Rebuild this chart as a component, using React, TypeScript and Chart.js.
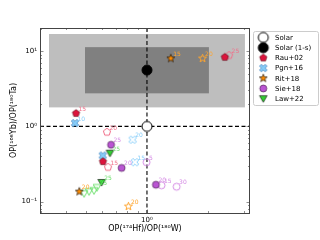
import React, { useEffect, useRef } from 'react';
import { Chart, registerables } from 'chart.js';
Chart.register(...registerables);

const FONT = "'DejaVu Sans', sans-serif";

// ---- data ----
const solarX = [1];
const solarY = [1];
const solar1sX = [1];
const solar1sY = [5.6];

const rauFilledX = [0.447, 2.42, 0.607];
const rauFilledY = [1.49, 8.3, 0.341];
const rauFilledLab = ['15', '', ''];
const rauOpenX = [2.54, 0.635, 0.643];
const rauOpenY = [8.8, 0.84, 0.287];
const rauOpenLab = ['25', '20', '15'];

const pgnFilledX = [0.442, 0.605];
const pgnFilledY = [1.107, 0.41];
const pgnFilledLab = ['10', ''];
const pgnOpenX = [0.85, 0.873];
const pgnOpenY = [0.665, 0.334];
const pgnOpenLab = ['20', '15'];

const ritFilledX = [1.31, 0.464];
const ritFilledY = [8.0, 0.136];
const ritFilledLab = ['15', '20'];
const ritOpenX = [1.88, 0.81];
const ritOpenY = [8.0, 0.0865];
const ritOpenLab = ['20', '20'];

const sieFilledX = [0.665, 0.75, 1.107];
const sieFilledY = [0.57, 0.281, 0.168];
const sieFilledLab = ['25', '20', '20'];
const sieOpenX = [0.995, 1.18, 1.40];
const sieOpenY = [0.334, 0.165, 0.158];
const sieOpenLab = ['5', '15', '30'];

const lawFilledX = [0.657, 0.598];
const lawFilledY = [0.44, 0.18];
const lawFilledLab = ['25', '25'];
const lawOpenX = [0.49, 0.518, 0.548, 0.567];
const lawOpenY = [0.128, 0.136, 0.140, 0.154];
const lawOpenLab = ['', '', '', '25'];

const lightBoxX = [0.329, 3.04];
const lightBoxY = [1.79, 16.9];
const darkBoxX = [0.495, 2.02];
const darkBoxY = [2.75, 11.3];

const xRange = [0.297, 3.22];
const yRange = [0.0707, 20.3];
const xTickValues = [1];
const xTickLabels = ['10⁰'];
const yTickValues = [0.1, 1, 10];
const yTickLabels = ['10⁻¹', '10⁰', '10¹'];
const xMinorTicks = [0.3, 0.4, 0.5, 0.6, 0.7, 0.8, 0.9, 2, 3];
const yMinorTicks = [0.08, 0.09, 0.2, 0.3, 0.4, 0.5, 0.6, 0.7, 0.8, 0.9, 2, 3, 4, 5, 6, 7, 8, 9, 20];

const legendLabels = ['Solar', 'Solar (1-s)', 'Rau+02', 'Pgn+16', 'Rit+18', 'Sie+18', 'Law+22'];

const xTitle = 'OP(¹⁷⁴Hf)/OP(¹⁸⁰W)';
const yTitle = 'OP(¹⁶⁸Yb)/OP(¹⁸⁰Ta)';

// ---- colours ----
const CRIMSON = '#dc143c';
const CRIMSON_L = '#f0708a';
const SKY = '#87cefa';
const STEEL = '#4a86c0';
const ORANGE = '#ff8c00';
const ORANGE_L = '#ffa52e';
const ORCHID = '#ba55d3';
const ORCHID_L = '#d58be4';
const GREEN = '#32cd32';
const GREEN_L = '#6ee06e';

function pts(xs: number[], ys: number[]) {
  return xs.map((x, i) => ({ x, y: ys[i] }));
}

function makeMarker(shape: string, r: number, fill: string | null, stroke: string | null, lw: number) {
  const size = Math.ceil(2 * r + 2 * lw + 2);
  const c = document.createElement('canvas');
  c.width = size;
  c.height = size;
  const ctx = c.getContext('2d')!;
  const m = size / 2;
  ctx.beginPath();
  if (shape === 'circle') {
    ctx.arc(m, m, r, 0, Math.PI * 2);
  } else if (shape === 'pentagon') {
    for (let k = 0; k < 5; k++) {
      const a = -Math.PI / 2 + (k * 2 * Math.PI) / 5;
      const px = m + r * Math.cos(a);
      const py = m + r * Math.sin(a);
      if (k === 0) ctx.moveTo(px, py);
      else ctx.lineTo(px, py);
    }
    ctx.closePath();
  } else if (shape === 'star') {
    for (let k = 0; k < 10; k++) {
      const a = -Math.PI / 2 + (k * Math.PI) / 5;
      const rr = k % 2 === 0 ? r : r * 0.42;
      const px = m + rr * Math.cos(a);
      const py = m + rr * Math.sin(a);
      if (k === 0) ctx.moveTo(px, py);
      else ctx.lineTo(px, py);
    }
    ctx.closePath();
  } else if (shape === 'x') {
    const t = r * 0.32;
    const base = [
      [t, t], [t, r], [-t, r], [-t, t], [-r, t], [-r, -t],
      [-t, -t], [-t, -r], [t, -r], [t, -t], [r, -t], [r, t],
    ];
    const ca = Math.cos(Math.PI / 4);
    base.forEach(([bx, by], k) => {
      const px = m + (bx * ca - by * ca);
      const py = m + (bx * ca + by * ca);
      if (k === 0) ctx.moveTo(px, py);
      else ctx.lineTo(px, py);
    });
    ctx.closePath();
  } else if (shape === 'tri_down') {
    ctx.moveTo(m, m + r * 0.95);
    ctx.lineTo(m - r, m - r * 0.8);
    ctx.lineTo(m + r, m - r * 0.8);
    ctx.closePath();
  }
  if (fill) {
    ctx.fillStyle = fill;
    ctx.fill();
  }
  if (stroke) {
    ctx.strokeStyle = stroke;
    ctx.lineWidth = lw;
    ctx.stroke();
  }
  return c;
}

export default function App() {
  const ref = useRef<HTMLCanvasElement | null>(null);

  useEffect(() => {
    const canvas = ref.current;
    if (!canvas) return;

    const mk = {
      solar: makeMarker('circle', 5, '#ffffff', '#000000', 1),
      solar1s: makeMarker('circle', 5, '#000000', '#000000', 1),
      rauF: makeMarker('pentagon', 3.8, CRIMSON, '#5a0010', 0.6),
      rauO: makeMarker('pentagon', 3.8, null, CRIMSON_L, 1),
      pgnF: makeMarker('x', 4, SKY, STEEL, 0.8),
      pgnO: makeMarker('x', 4, null, SKY, 1),
      ritF: makeMarker('star', 4.2, ORANGE, '#000000', 0.6),
      ritO: makeMarker('star', 4.2, null, ORANGE_L, 1),
      sieF: makeMarker('circle', 3.5, ORCHID, '#3a1040', 0.6),
      sieO: makeMarker('circle', 3.5, null, ORCHID_L, 1),
      lawF: makeMarker('tri_down', 3.8, GREEN, '#000000', 0.6),
      lawO: makeMarker('tri_down', 3.8, null, GREEN_L, 1),
    };
    const legendMarkers = [mk.solar, mk.solar1s, mk.rauF, mk.pgnF, mk.ritF, mk.sieF, mk.lawF];

    const ds = (label: string, xs: number[], ys: number[], style: HTMLCanvasElement, labs: string[], labColor: string, order: number) => ({
      label,
      data: pts(xs, ys),
      pointStyle: style,
      pointRadius: 4,
      pointHoverRadius: 4,
      showLine: false,
      pointLabels: labs,
      labelColor: labColor,
      order,
    });

    const datasets: any[] = [
      ds('Solar', solarX, solarY, mk.solar, [''], '#000', 0),
      ds('Solar (1-s)', solar1sX, solar1sY, mk.solar1s, [''], '#000', 0),
      ds('Rau+02', rauFilledX, rauFilledY, mk.rauF, rauFilledLab, CRIMSON_L, 1),
      ds('Rau+02 open', rauOpenX, rauOpenY, mk.rauO, rauOpenLab, CRIMSON_L, 2),
      ds('Pgn+16', pgnFilledX, pgnFilledY, mk.pgnF, pgnFilledLab, SKY, 1),
      ds('Pgn+16 open', pgnOpenX, pgnOpenY, mk.pgnO, pgnOpenLab, SKY, 2),
      ds('Rit+18', ritFilledX, ritFilledY, mk.ritF, ritFilledLab, ORANGE_L, 1),
      ds('Rit+18 open', ritOpenX, ritOpenY, mk.ritO, ritOpenLab, ORANGE_L, 2),
      ds('Sie+18', sieFilledX, sieFilledY, mk.sieF, sieFilledLab, ORCHID_L, 1),
      ds('Sie+18 open', sieOpenX, sieOpenY, mk.sieO, sieOpenLab, ORCHID_L, 2),
      ds('Law+22', lawFilledX, lawFilledY, mk.lawF, lawFilledLab, GREEN_L, 1),
      ds('Law+22 open', lawOpenX, lawOpenY, mk.lawO, lawOpenLab, GREEN_L, 2),
    ];

    const decor = {
      id: 'decor',
      beforeDatasetsDraw(chart: any) {
        const { ctx, chartArea: a, scales } = chart;
        const xs = scales.x;
        const ys = scales.y;
        ctx.save();
        ctx.beginPath();
        ctx.rect(a.left, a.top, a.right - a.left, a.bottom - a.top);
        ctx.clip();
        const box = (bx: number[], by: number[], col: string) => {
          const x0 = xs.getPixelForValue(bx[0]);
          const x1 = xs.getPixelForValue(bx[1]);
          const y0 = ys.getPixelForValue(by[1]);
          const y1 = ys.getPixelForValue(by[0]);
          ctx.fillStyle = col;
          ctx.fillRect(x0, y0, x1 - x0, y1 - y0);
        };
        box(lightBoxX, lightBoxY, '#bebebe');
        box(darkBoxX, darkBoxY, '#808080');
        ctx.strokeStyle = '#000';
        ctx.lineWidth = 1.1;
        ctx.setLineDash([4, 2.5]);
        const px = xs.getPixelForValue(solarX[0]);
        const py = ys.getPixelForValue(solarY[0]);
        ctx.beginPath();
        ctx.moveTo(a.left, py);
        ctx.lineTo(a.right, py);
        ctx.moveTo(px, a.top);
        ctx.lineTo(px, a.bottom);
        ctx.stroke();
        ctx.restore();
      },
      afterDatasetsDraw(chart: any) {
        const { ctx, chartArea: a, scales } = chart;
        const xs = scales.x;
        const ys = scales.y;
        ctx.save();
        // point labels
        ctx.font = `6px ${FONT}`;
        ctx.textAlign = 'left';
        ctx.textBaseline = 'alphabetic';
        chart.data.datasets.forEach((d: any, di: number) => {
          const meta = chart.getDatasetMeta(di);
          meta.data.forEach((el: any, i: number) => {
            const t = d.pointLabels?.[i];
            if (!t) return;
            ctx.fillStyle = d.labelColor;
            ctx.fillText(t, el.x + 2.5, el.y - 2.5);
          });
        });
        // frame
        ctx.strokeStyle = '#444';
        ctx.lineWidth = 1;
        ctx.strokeRect(Math.round(a.left) + 0.5, Math.round(a.top) + 0.5, Math.round(a.right - a.left) - 1, Math.round(a.bottom - a.top));
        // inward ticks on all sides
        ctx.lineWidth = 0.6;
        const tickX = (v: number, len: number) => {
          const p = Math.round(xs.getPixelForValue(v)) + 0.5;
          ctx.beginPath();
          ctx.moveTo(p, a.bottom);
          ctx.lineTo(p, a.bottom - len);
          ctx.moveTo(p, a.top);
          ctx.lineTo(p, a.top + len);
          ctx.stroke();
        };
        const tickY = (v: number, len: number) => {
          const p = Math.round(ys.getPixelForValue(v)) + 0.5;
          ctx.beginPath();
          ctx.moveTo(a.left, p);
          ctx.lineTo(a.left + len, p);
          ctx.moveTo(a.right, p);
          ctx.lineTo(a.right - len, p);
          ctx.stroke();
        };
        xMinorTicks.forEach((v) => tickX(v, 2));
        xTickValues.forEach((v) => tickX(v, 3.5));
        yMinorTicks.forEach((v) => tickY(v, 2));
        yTickValues.forEach((v) => tickY(v, 3.5));
        ctx.restore();
      },
      afterDraw(chart: any) {
        const { ctx } = chart;
        ctx.save();
        // legend
        const lx = 253.5;
        const ly = 31.5;
        const lw = 65;
        const lh = 74;
        const rr = 2;
        ctx.beginPath();
        ctx.moveTo(lx + rr, ly);
        ctx.lineTo(lx + lw - rr, ly);
        ctx.arcTo(lx + lw, ly, lx + lw, ly + rr, rr);
        ctx.lineTo(lx + lw, ly + lh - rr);
        ctx.arcTo(lx + lw, ly + lh, lx + lw - rr, ly + lh, rr);
        ctx.lineTo(lx + rr, ly + lh);
        ctx.arcTo(lx, ly + lh, lx, ly + lh - rr, rr);
        ctx.lineTo(lx, ly + rr);
        ctx.arcTo(lx, ly, lx + rr, ly, rr);
        ctx.closePath();
        ctx.fillStyle = 'rgba(255,255,255,0.9)';
        ctx.fill();
        ctx.strokeStyle = '#cccccc';
        ctx.lineWidth = 1;
        ctx.stroke();
        ctx.font = `7px ${FONT}`;
        ctx.fillStyle = '#000';
        ctx.textAlign = 'left';
        ctx.textBaseline = 'middle';
        legendLabels.forEach((t, i) => {
          const y = 37.5 + i * 10.2;
          const img = legendMarkers[i];
          ctx.drawImage(img, 263.3 - img.width / 2, y - img.height / 2);
          ctx.fillText(t, 275, y + 0.5);
        });
        ctx.restore();
      },
    };

    const chart = new Chart(canvas, {
      type: 'scatter',
      data: { datasets },
      options: {
        animation: false,
        responsive: false,
        devicePixelRatio: 1,
        events: [],
        layout: { padding: { top: 28, right: 70, bottom: 0, left: 0 } },
        plugins: { legend: { display: false }, tooltip: { enabled: false } },
        scales: {
          x: {
            type: 'logarithmic',
            min: xRange[0],
            max: xRange[1],
            grid: { display: false, drawTicks: false },
            border: { display: false },
            afterBuildTicks: (s: any) => {
              s.ticks = xTickValues.map((v) => ({ value: v }));
            },
            afterFit: (s: any) => {
              s.height = 27;
            },
            ticks: {
              autoSkip: false,
              maxRotation: 0,
              padding: 3,
              color: '#000',
              font: { family: FONT, size: 7 },
              callback: (_v: any, i: number) => xTickLabels[i],
            },
            title: {
              display: true,
              text: xTitle,
              color: '#000',
              font: { family: FONT, size: 8 },
              padding: { top: 0, bottom: 6 },
            },
          },
          y: {
            type: 'logarithmic',
            min: yRange[0],
            max: yRange[1],
            grid: { display: false, drawTicks: false },
            border: { display: false },
            afterBuildTicks: (s: any) => {
              s.ticks = yTickValues.map((v) => ({ value: v }));
            },
            afterFit: (s: any) => {
              s.width = 40;
            },
            ticks: {
              autoSkip: false,
              padding: 3,
              color: '#000',
              font: { family: FONT, size: 7 },
              callback: (_v: any, i: number) => yTickLabels[i],
            },
            title: {
              display: true,
              text: yTitle,
              color: '#000',
              font: { family: FONT, size: 8 },
              padding: { top: 9, bottom: 0 },
            },
          },
        },
      } as any,
      plugins: [decor],
    });

    return () => chart.destroy();
  }, []);

  return (
    <div style={{ position: 'fixed', left: 0, top: 0, width: 320, height: 240, background: '#fff' }}>
      <canvas ref={ref} width={320} height={240} style={{ display: 'block' }} />
    </div>
  );
}
